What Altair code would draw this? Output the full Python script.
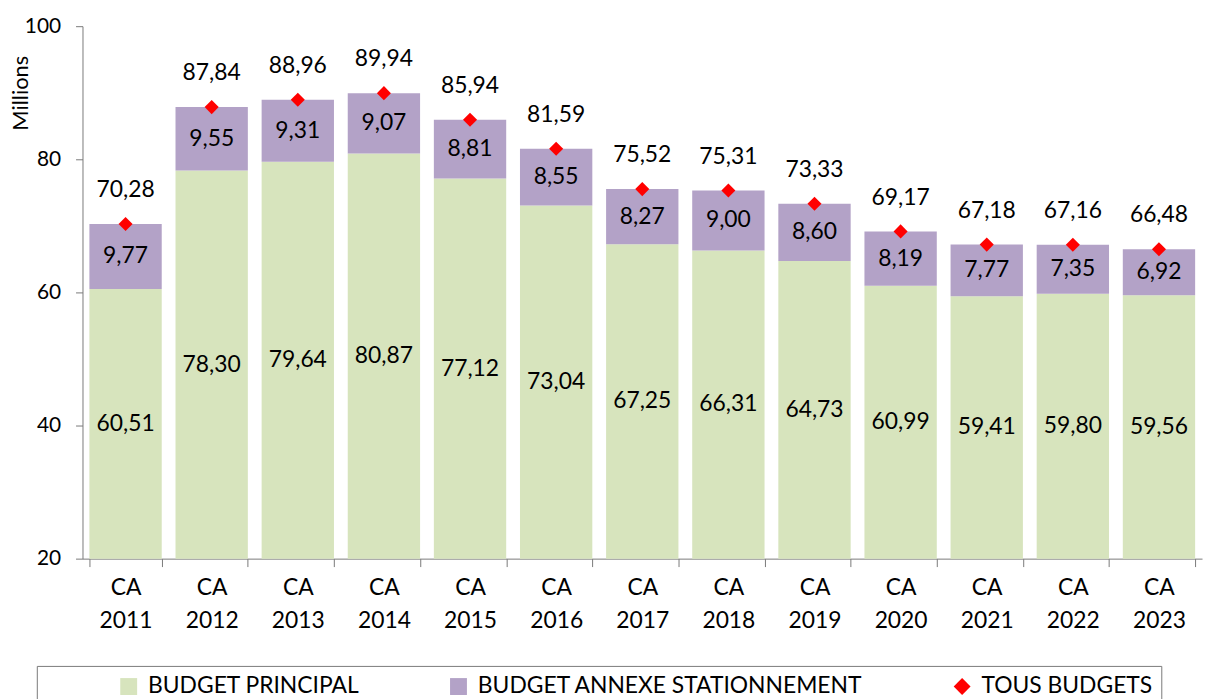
import altair as alt
import pandas as pd

cats = ["CA 2011", "CA 2012", "CA 2013", "CA 2014", "CA 2015", "CA 2016", "CA 2017",
        "CA 2018", "CA 2019", "CA 2020", "CA 2021", "CA 2022", "CA 2023"]
principal = [60.51, 78.30, 79.64, 80.87, 77.12, 73.04, 67.25, 66.31, 64.73, 60.99, 59.41, 59.80, 59.56]
annexe = [9.77, 9.55, 9.31, 9.07, 8.81, 8.55, 8.27, 9.00, 8.60, 8.19, 7.77, 7.35, 6.92]
total = [70.28, 87.84, 88.96, 89.94, 85.94, 81.59, 75.52, 75.31, 73.33, 69.17, 67.18, 67.16, 66.48]

series = ["BUDGET PRINCIPAL", "BUDGET ANNEXE STATIONNEMENT", "TOUS BUDGETS"]
colors = ["#D7E4BD", "#B3A2C7", "#FF0000"]
AXIS_MIN = 20

rows = []
for c, p, a, t in zip(cats, principal, annexe, total):
    rows.append({"cat": c, "series": series[0], "lo": AXIS_MIN, "hi": p, "val": p})
    rows.append({"cat": c, "series": series[1], "lo": p, "hi": t, "val": a})
bars_df = pd.DataFrame(rows)
bars_df["mid"] = (bars_df["lo"] + bars_df["hi"]) / 2
tot_df = pd.DataFrame({"cat": cats, "total": total, "series": series[2]})

FONT = "Lato"

x_enc = alt.X("cat:N", sort=cats, title=None,
              scale=alt.Scale(paddingInner=0.16, paddingOuter=0.08),
              axis=alt.Axis(labelExpr="split(datum.label, ' ')", labelAngle=0,
                            labelFontSize=23, labelLineHeight=33, labelPadding=10,
                            tickBand="extent", tickSize=8, labelColor="black",
                            domainColor="#7a7a7a", tickColor="#7a7a7a", labelFont=FONT))
y_scale = alt.Scale(domain=[20, 100], nice=False, zero=False)
y_axis = alt.Axis(values=[20, 40, 60, 80, 100], grid=False, title="Millions",
                  tickSize=7, labelPadding=15, labelFontSize=21, labelFont=FONT,
                  labelColor="black", domainColor="#7a7a7a", tickColor="#7a7a7a",
                  titleFont=FONT, titleFontSize=22, titleFontWeight="normal",
                  titleColor="black", titleX=-62, titleY=67, titleAngle=270,
                  titleAlign="center", titleBaseline="middle")

color_scale = alt.Scale(domain=series, range=colors)
shape_scale = alt.Scale(domain=series, range=["square", "square", "diamond"])
legend = alt.Legend(title="\u00a0", titleOrient="left", titlePadding=72,
                    orient="none", legendX=-46, legendY=644, direction="horizontal",
                    columns=3, columnPadding=88, labelFontSize=23, labelFont=FONT,
                    labelColor="black", labelLimit=0, symbolSize=289, symbolStrokeWidth=0,
                    labelOffset=8, padding=9, strokeColor="#7a7a7a",
                    fillColor="white", titleFontSize=10)

bars = alt.Chart(bars_df).mark_bar().encode(
    x=x_enc,
    y=alt.Y("hi:Q", scale=y_scale, axis=y_axis),
    y2="lo:Q",
    color=alt.Color("series:N", scale=color_scale, legend=legend),
)

bar_text = alt.Chart(bars_df).transform_calculate(
    lab="replace(format(datum.val, '.2f'), '.', ',')"
).mark_text(fontSize=23, font=FONT, color="black", baseline="middle").encode(
    x=alt.X("cat:N", sort=cats),
    y=alt.Y("mid:Q", scale=y_scale),
    text="lab:N",
)

points = alt.Chart(tot_df).mark_point(filled=True, opacity=1, size=200).encode(
    x=alt.X("cat:N", sort=cats),
    y=alt.Y("total:Q", scale=y_scale),
    color=alt.Color("series:N", scale=color_scale, legend=legend),
    shape=alt.Shape("series:N", scale=shape_scale, legend=legend),
)

tot_text = alt.Chart(tot_df).transform_calculate(
    lab="replace(format(datum.total, '.2f'), '.', ',')"
).mark_text(fontSize=23, font=FONT, color="black", baseline="middle", dy=-34).encode(
    x=alt.X("cat:N", sort=cats),
    y=alt.Y("total:Q", scale=y_scale),
    text="lab:N",
)

chart = alt.layer(bars, bar_text, points, tot_text).properties(
    width=1127, height=536,
    autosize=alt.AutoSizeParams(type="none"),
    padding={"left": 75, "top": 16, "right": 4, "bottom": 140},
).configure_view(stroke=None)

chart.save("out.html", embed_options={"renderer": "svg", "actions": False})
